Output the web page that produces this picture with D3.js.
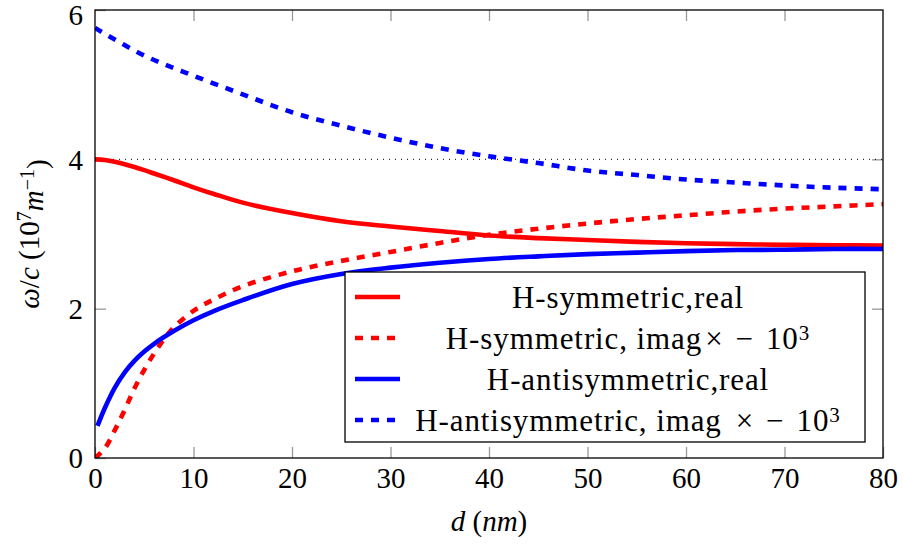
<!DOCTYPE html>
<html>
<head>
<meta charset="utf-8">
<script src="https://cdn.jsdelivr.net/npm/d3@7"></script>
<style>
  body { margin: 0; background: #fff; }
  text { font-family: "Liberation Serif", "DejaVu Serif", serif; fill: #000; }
</style>
</head>
<body>
<div id="chart"></div>
<script>
// d in nm, omega/c in 10^7 m^-1
var symRealD = [0, 1, 2, 3, 4, 5, 6, 8, 10, 12, 15, 20, 25, 30, 35, 40, 45, 50, 55, 60, 65, 70, 75, 80];
var symReal  = [4.00, 3.99, 3.967, 3.935, 3.897, 3.855, 3.81, 3.72, 3.625, 3.54, 3.42, 3.28, 3.17, 3.10, 3.04, 2.98, 2.945, 2.92, 2.895, 2.877, 2.865, 2.855, 2.85, 2.845];

var symImagD = [0, 1, 2, 3, 4, 5, 6, 7, 8, 10, 12, 15, 20, 25, 30, 35, 40, 45, 50, 55, 60, 65, 70, 75, 80];
var symImag  = [0.00, 0.13, 0.37, 0.64, 0.93, 1.18, 1.40, 1.59, 1.75, 1.97, 2.12, 2.30, 2.50, 2.64, 2.76, 2.88, 2.99, 3.07, 3.14, 3.20, 3.25, 3.30, 3.34, 3.37, 3.40];

var antiRealD = [0.25, 1, 2, 3, 4, 5, 6, 8, 10, 12, 15, 20, 25, 30, 35, 40, 45, 50, 55, 60, 65, 70, 75, 80];
var antiReal  = [0.43, 0.67, 0.94, 1.145, 1.30, 1.425, 1.53, 1.70, 1.845, 1.965, 2.115, 2.33, 2.465, 2.55, 2.615, 2.665, 2.70, 2.73, 2.75, 2.77, 2.785, 2.79, 2.80, 2.80];

var antiImagD = [0, 5, 10, 15, 20, 25, 30, 35, 40, 45, 50, 55, 60, 65, 70, 75, 80];
var antiImag  = [5.76, 5.39, 5.12, 4.87, 4.63, 4.45, 4.29, 4.15, 4.04, 3.95, 3.85, 3.79, 3.73, 3.69, 3.65, 3.62, 3.60];

var refLevel = 4;
var xTicks = [0, 10, 20, 30, 40, 50, 60, 70, 80];
var yTicks = [0, 2, 4, 6];

// text, then times sign, minus, base and exponent
var legendLabels = [
  ["H-symmetric,real"],
  ["H-symmetric, imag", "\u00d7", "\u2212", "10", "3"],
  ["H-antisymmetric,real"],
  ["H-antisymmetric, imag", "\u00d7", "\u2212", "10", "3"]
];

var margin = { top: 10, right: 20, bottom: 93, left: 95 },
  width = 903 - margin.left - margin.right,
  height = 551 - margin.top - margin.bottom;

var svg = d3.select("#chart").append("svg")
  .attr("width", 903)
  .attr("height", 551)
  .append("g")
  .attr("transform", "translate(" + margin.left + "," + margin.top + ")");

var x = d3.scaleLinear().domain([0, 80]).range([0, width]);
var y = d3.scaleLinear().domain([0, 6]).range([height, 0]);

// inner ticks on all four sides
var tickLen = 11;
var tickStyle = function(g) {
  g.select(".domain").remove();
  g.selectAll(".tick line").attr("stroke", "#9a9a9a").attr("stroke-width", 1.3);
  g.selectAll(".tick text").style("font-size", "29px");
};

svg.append("g")
  .attr("transform", "translate(0," + height + ")")
  .call(d3.axisBottom(x).tickValues(xTicks).tickSizeInner(-tickLen).tickSizeOuter(0).tickPadding(9))
  .call(tickStyle);

svg.append("g")
  .call(d3.axisTop(x).tickValues(xTicks.slice(1, -1)).tickSizeInner(-tickLen).tickSizeOuter(0).tickFormat(""))
  .call(tickStyle);

svg.append("g")
  .call(d3.axisLeft(y).tickValues(yTicks).tickFormat(d3.format("d")).tickSizeInner(-tickLen).tickSizeOuter(0).tickPadding(12))
  .call(tickStyle)
  .selectAll(".tick text")
  .attr("dy", function(d) { return d === 6 ? "0.5em" : "0.34em"; });

svg.append("g")
  .attr("transform", "translate(" + width + ",0)")
  .call(d3.axisRight(y).tickValues(yTicks.slice(1, -1)).tickSizeInner(-tickLen).tickSizeOuter(0).tickFormat(""))
  .call(tickStyle);

// dotted reference line
svg.append("line")
  .attr("x1", x(0)).attr("x2", x(80))
  .attr("y1", y(refLevel)).attr("y2", y(refLevel))
  .attr("stroke", "#000")
  .attr("stroke-width", 1)
  .attr("stroke-dasharray", "1,5");

var line = d3.line()
  .x(function(d) { return x(d[0]); })
  .y(function(d) { return y(d[1]); })
  .curve(d3.curveCatmullRom.alpha(0.5));

var series = [
  { xs: symRealD, ys: symReal, color: "#ff0000", dash: null },
  { xs: symImagD, ys: symImag, color: "#ff0000", dash: "8,8" },
  { xs: antiRealD, ys: antiReal, color: "#0000ff", dash: null },
  { xs: antiImagD, ys: antiImag, color: "#0000ff", dash: "8,8" }
];

svg.append("clipPath").attr("id", "plotclip")
  .append("rect").attr("width", width).attr("height", height);

svg.append("g").attr("clip-path", "url(#plotclip)")
  .selectAll("path")
  .data(series)
  .enter().append("path")
  .attr("d", function(s) { return line(d3.zip(s.xs, s.ys)); })
  .attr("fill", "none")
  .attr("stroke", function(s) { return s.color; })
  .attr("stroke-width", 4.6)
  .attr("stroke-dasharray", function(s) { return s.dash; });

// frame
svg.append("rect")
  .attr("width", width).attr("height", height)
  .attr("fill", "none")
  .attr("stroke", "#000")
  .attr("stroke-width", 1.3);

// legend
var lg = svg.append("g").attr("transform", "translate(" + (345 - margin.left) + "," + (272 - margin.top) + ")");
lg.append("rect")
  .attr("width", 520).attr("height", 170)
  .attr("fill", "#fff")
  .attr("stroke", "#000")
  .attr("stroke-width", 1.3);

var row = lg.selectAll(".row")
  .data(series)
  .enter().append("g")
  .attr("class", "row")
  .attr("transform", function(d, i) { return "translate(0," + (25 + i * 41) + ")"; });

row.append("line")
  .attr("x1", 10).attr("x2", 55)
  .attr("stroke", function(s) { return s.color; })
  .attr("stroke-width", 4.6)
  .attr("stroke-dasharray", function(s) { return s.dash; });

var lt = row.append("text")
  .attr("x", 283)
  .attr("dy", "0.34em")
  .attr("text-anchor", "middle")
  .style("font-size", "31px")
  .style("letter-spacing", "0.9px");
lt.each(function(d, i) {
  var t = d3.select(this), lab = legendLabels[i];
  t.append("tspan").text(lab[0]);
  if (lab.length > 1) {
    t.append("tspan").attr("dx", i === 3 ? 14 : 3).text(lab[1]);
    t.append("tspan").attr("dx", 12).text(lab[2]);
    t.append("tspan").attr("dx", 12).text(lab[3]);
    t.append("tspan").attr("dy", "-0.42em").style("font-size", "21px").text(lab[4]);
  }
});

// axis labels
var xl = svg.append("text")
  .attr("x", width / 2)
  .attr("y", height + 73)
  .attr("text-anchor", "middle")
  .style("font-size", "29px");
xl.append("tspan").style("font-style", "italic").text("d");
xl.append("tspan").text(" (");
xl.append("tspan").style("font-style", "italic").text("nm");
xl.append("tspan").text(")");

var yl = svg.append("text")
  .attr("transform", "translate(" + (-56) + "," + (height / 2) + ") rotate(-90)")
  .attr("text-anchor", "middle")
  .style("font-size", "29px");
yl.append("tspan").style("font-style", "italic").text("\u03c9");
yl.append("tspan").text("/");
yl.append("tspan").style("font-style", "italic").text("c");
yl.append("tspan").text(" (10");
yl.append("tspan").attr("dy", "-0.42em").style("font-size", "20px").text("7");
yl.append("tspan").attr("dy", "0.42em").style("font-style", "italic").text("m");
yl.append("tspan").attr("dy", "-0.42em").style("font-size", "20px").text("\u22121");
yl.append("tspan").attr("dy", "0.42em").text(")");
</script>
</body>
</html>
